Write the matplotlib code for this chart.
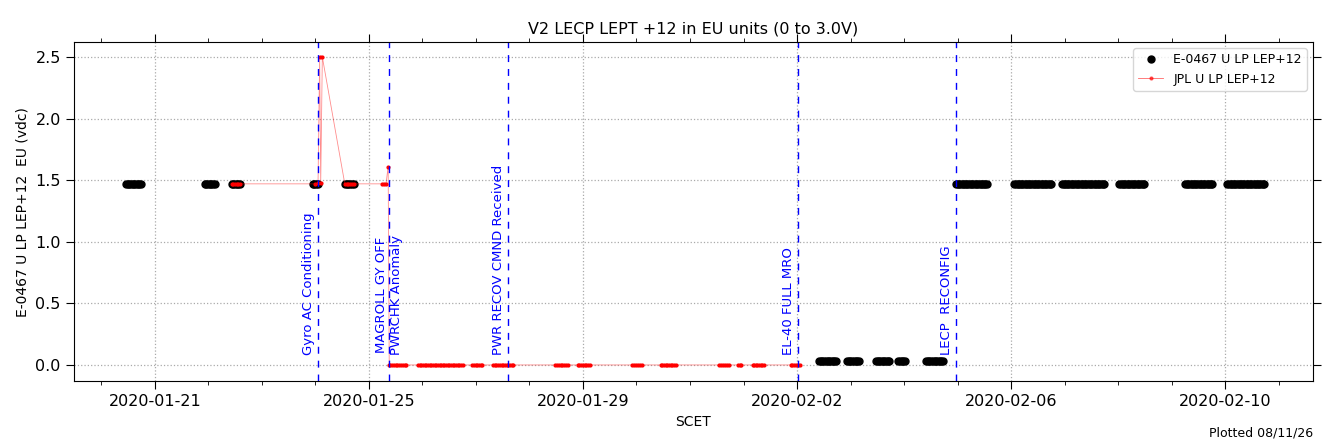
import matplotlib
matplotlib.use('Agg')
import matplotlib.pyplot as plt
import matplotlib.dates as mdates
import numpy as np
import pandas as pd

t0 = pd.Timestamp('2020-01-21')

# E-0467 observed intervals (days after 2020-01-21, start, end, value)
e_segments = [
    (-0.54, -0.26, 1.47), (0.93, 1.12, 1.47), (1.44, 1.59, 1.47),
    (2.95, 3.05, 1.47), (3.55, 3.72, 1.47),
    (12.41, 12.73, 0.035), (12.93, 13.16, 0.035), (13.48, 13.72, 0.035),
    (13.89, 14.02, 0.035), (14.41, 14.73, 0.035),
    (14.97, 15.55, 1.47), (16.06, 16.75, 1.47), (16.95, 17.74, 1.47),
    (18.02, 18.49, 1.47), (19.25, 19.76, 1.47), (20.04, 20.73, 1.47),
]

# JPL samples
jpl_segments = [
    (1.44, 1.59, 1.47), (3.05, 3.10, 1.48), (3.55, 3.72, 1.47),
    (4.25, 4.32, 1.47), (4.40, 4.70, 0.0), (4.92, 5.75, 0.0),
    (5.93, 6.12, 0.0), (6.32, 6.70, 0.0), (7.48, 7.72, 0.0),
    (7.90, 8.13, 0.0), (8.92, 9.10, 0.0), (9.45, 9.73, 0.0),
    (10.55, 10.72, 0.0), (10.90, 10.96, 0.0), (11.17, 11.38, 0.0),
    (11.88, 12.05, 0.0),
]
jpl_single = [(3.00, 1.47), (3.08, 2.50), (3.13, 2.50), (4.36, 1.61), (4.38, 0.0)]

events = [(3.05, 'Gyro AC Conditioning', 'right'),
          (4.37, 'MAGROLL GY OFF\nPWRCHK Anomaly', 'center'),
          (6.60, 'PWR RECOV CMND Received', 'right'),
          (12.02, 'EL-40 FULL MRO', 'right'),
          (14.97, 'LECP  RECONFIG', 'right')]


def expand(segs, step=0.03):
    d, v = [], []
    for a, b, val in segs:
        n = max(2, int((b - a) / step) + 1)
        d.extend(np.linspace(a, b, n))
        v.extend([val] * n)
    return d, v


ed, ev = expand(e_segments)
jd, jv = expand(jpl_segments)
for a, val in jpl_single:
    jd.append(a)
    jv.append(val)
order = np.argsort(jd)
jd = np.array(jd)[order]
jv = np.array(jv)[order]

etimes = t0 + pd.to_timedelta(ed, unit='D')
jtimes = t0 + pd.to_timedelta(jd, unit='D')

fig = plt.figure(figsize=(13.33, 4.44), dpi=100)
ax = fig.add_axes([0.0555, 0.142, 0.9295, 0.763])

ax.plot(etimes, ev, 'o', color='k', ms=5, label='E-0467 U LP LEP+12')
ax.plot(jtimes, jv, '-', color='red', lw=0.6, alpha=0.45)
ax.plot(jtimes, jv, '.', color='red', ms=4)
ax.plot([], [], '.-', color='red', lw=0.6, ms=4, alpha=0.6, label='JPL U LP LEP+12')

for d, txt, ha in events:
    x = t0 + pd.Timedelta(days=d)
    ax.axvline(x, color='blue', ls=(0, (5, 5)), lw=1)
    xo = -2 if ha == 'right' else 0
    ax.annotate(txt, (x, 0.08), xytext=(xo, 0), textcoords='offset points',
                rotation=90, color='blue', ha=ha, va='bottom', fontsize=9.5,
                rotation_mode='default')

ax.set_xlim(t0 - pd.Timedelta(days=1.51), t0 + pd.Timedelta(days=21.64))
ax.set_ylim(-0.13, 2.62)
ax.xaxis.set_major_locator(mdates.DayLocator(bymonthday=[21, 25, 29, 2, 6, 10]))
ax.xaxis.set_major_locator(mdates.DayLocator(interval=4))
ax.xaxis.set_major_locator(matplotlib.ticker.FixedLocator(
    [mdates.date2num(t0 + pd.Timedelta(days=4 * i)) for i in range(6)]))
ax.xaxis.set_minor_locator(mdates.DayLocator())
ax.xaxis.set_major_formatter(mdates.DateFormatter('%Y-%m-%d'))
ax.yaxis.set_major_locator(matplotlib.ticker.MultipleLocator(0.5))
ax.tick_params(axis='both', which='major', labelsize=11.5, length=6, top=True, right=True)
ax.tick_params(axis='both', which='minor', length=3, top=True, right=True)
ax.grid(True, ls=':', color='#aaaaaa', lw=0.9)
ax.set_xlabel('SCET', fontsize=10)
ax.set_ylabel('E-0467 U LP LEP+12  EU (vdc)', fontsize=10)
ax.set_title('V2 LECP LEPT +12 in EU units (0 to 3.0V)', fontsize=11.5)
ax.legend(loc='upper right', fontsize=9)
fig.text(0.985, 0.01, 'Plotted 08/11/26', ha='right', va='bottom', fontsize=9)

fig.savefig('out.png', dpi=100)
